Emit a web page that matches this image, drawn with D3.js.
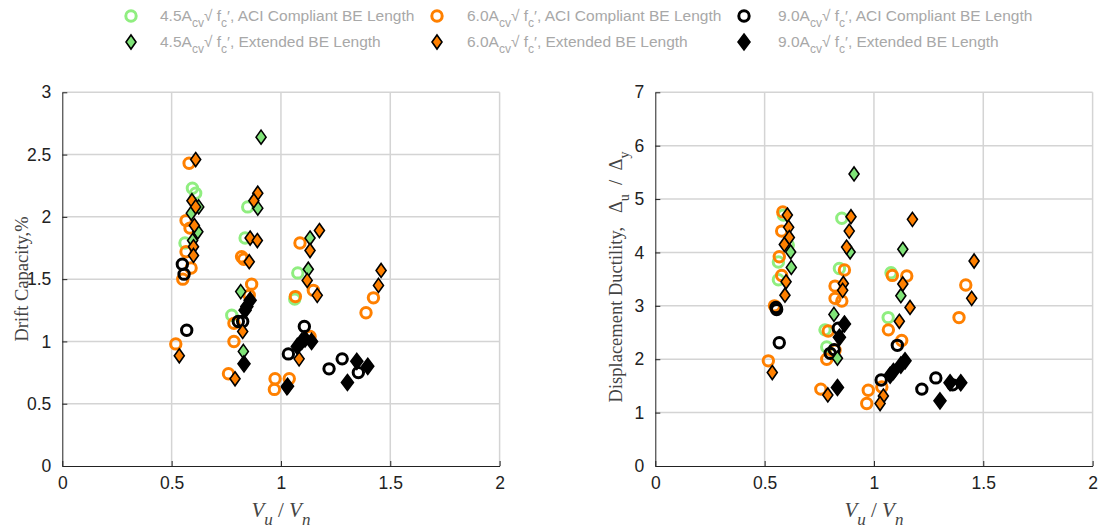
<!DOCTYPE html>
<html lang="en">
<head>
<meta charset="UTF-8">
<title>Drift capacity and ductility vs Vu/Vn</title>
<style>
    body, html { margin: 0; padding: 0; background: #fff; overflow: hidden; }
    svg { display: block; }
    .tick text { font-family: 'Liberation Sans', Arial, sans-serif; font-size: 17.5px; fill: #222; }
    .legend text { font-family: 'Liberation Sans', Arial, sans-serif; font-size: 15.5px; fill: #a8a8a8; }
</style>
</head>
<body>
<div id="chart"></div>
<script src="https://d3js.org/d3.v7.min.js"></script>
<script>
    // series labels
    const groups = ["4.5", "6.0", "9.0"];
    const beTypes = ["ACI Compliant BE Length", "Extended BE Length"];

    // Drift capacity (%) vs Vu/Vn  -- [Vu/Vn, drift]
    const driftGreenCircle = [[0.595,2.23],[0.61,2.19],[0.561,1.79],[0.848,2.08],[0.836,1.83],[0.775,1.21],
        [1.077,1.55],[1.063,1.34]];
    const driftGreenDiamond = [[0.624,2.08],[0.59,2.03],[0.62,1.88],[0.596,1.81],[0.909,2.64],[0.894,2.07],
        [0.816,1.40],[0.828,0.92],[1.133,1.83],[1.125,1.58]];
    const driftOrangeCircle = [[0.58,2.43],[0.566,1.97],[0.584,1.91],[0.566,1.72],[0.589,1.59],[0.551,1.50],
        [0.519,0.98],[0.82,1.68],[0.83,1.66],[0.866,1.46],[0.855,1.37],[0.785,1.145],[0.785,1.0],[0.76,0.74],
        [0.973,0.70],[0.97,0.615],[1.038,0.70],[1.087,1.79],[1.148,1.41],[1.066,1.36],[1.133,1.04],
        [1.389,1.23],[1.423,1.35]];
    const driftOrangeDiamond = [[0.61,2.46],[0.593,2.13],[0.61,2.08],[0.604,1.93],[0.60,1.76],[0.60,1.69],
        [0.535,0.885],[0.894,2.19],[0.876,2.13],[0.859,1.83],[0.892,1.81],[0.855,1.64],[0.825,1.08],[0.79,0.70],
        [1.027,0.63],[1.083,0.86],[1.176,1.89],[1.133,1.73],[1.12,1.49],[1.166,1.37],[1.446,1.45],[1.458,1.57]];
    const driftBlackCircle = [[0.549,1.62],[0.557,1.54],[0.569,1.09],[0.805,1.16],[0.825,1.16],
        [1.034,0.90],[1.107,1.12],[1.22,0.78],[1.28,0.86],[1.354,0.75]];
    const driftBlackDiamond = [[0.859,1.33],[0.844,1.28],[0.836,1.25],[0.831,0.82],[1.03,0.64],
        [1.075,0.96],[1.095,1.0],[1.11,1.02],[1.14,1.0],[1.347,0.84],[1.397,0.80],[1.304,0.67]];

    // Displacement ductility vs Vu/Vn -- [Vu/Vn, ductility]
    const ductGreenCircle = [[0.586,4.70],[0.608,4.14],[0.563,3.82],[0.563,3.49],[0.853,4.64],[0.842,3.70],
        [0.776,2.55],[0.784,2.23],[1.078,3.62],[1.065,2.78]];
    const ductGreenDiamond = [[0.619,4.01],[0.622,3.72],[0.909,5.47],[0.891,4.01],[0.817,2.84],[0.833,2.02],
        [1.132,4.06],[1.123,3.19]];
    const ductOrangeCircle = [[0.583,4.76],[0.578,4.40],[0.567,3.92],[0.578,3.57],[0.545,3.0],[0.517,1.97],
        [0.865,3.67],[0.822,3.37],[0.822,3.14],[0.853,3.09],[0.791,2.53],[0.822,2.17],[0.784,2.0],[0.757,1.44],
        [1.084,3.57],[1.15,3.56],[1.066,2.55],[1.127,2.35],[1.036,1.48],[0.974,1.42],[0.967,1.17],
        [1.42,3.39],[1.389,2.78]];
    const ductOrangeDiamond = [[0.604,4.70],[0.61,4.47],[0.613,4.28],[0.59,4.15],[0.598,3.45],[0.593,3.20],
        [0.535,1.75],[0.895,4.67],[0.887,4.40],[0.875,4.10],[0.86,3.42],[0.857,3.29],[0.789,1.33],
        [1.176,4.62],[1.132,3.41],[1.165,2.97],[1.116,2.71],[1.043,1.31],[1.028,1.17],[1.458,3.84],[1.447,3.14]];
    const ductBlackCircle = [[0.552,2.97],[0.555,2.93],[0.567,2.31],[0.837,2.58],[0.80,2.11],[0.818,2.18],
        [1.107,2.26],[1.033,1.61],[1.219,1.44],[1.283,1.65],[1.36,1.52]];
    const ductBlackDiamond = [[0.865,2.66],[0.842,2.41],[0.833,1.47],[1.142,1.97],[1.123,1.89],[1.089,1.77],
        [1.074,1.70],[1.302,1.22],[1.348,1.56],[1.397,1.56]];

    const xTicks = [0, 0.5, 1, 1.5, 2];
    const driftTicks = [0, 0.5, 1, 1.5, 2, 2.5, 3];
    const ductTicks = [0, 1, 2, 3, 4, 5, 6, 7];

    const W = 1099, H = 529;
    const green = "#90ee80", greenFill = "#80e478", orange = "#ff8000";

    const svg = d3.select("#chart").append("svg").attr("width", W).attr("height", H);

    function drawMarker(g, type, color) {
        if (type === "circle") {
            g.append("circle").attr("r", 5.2).attr("fill", "none")
                .attr("stroke", color).attr("stroke-width", 3);
        } else {
            const big = color === "#000";
            const hw = big ? 6 : 5, hh = big ? 8 : 7;
            g.append("path").attr("d", `M0,${-hh}L${hw},0L0,${hh}L${-hw},0Z`)
                .attr("fill", color).attr("stroke", "#000").attr("stroke-width", 1.6)
                .attr("stroke-linejoin", "miter");
        }
    }

    function panel(left, right, top, bottom, yMax, yTicks, series) {
        const x = d3.scaleLinear().domain([0, 2]).range([left, right]);
        const y = d3.scaleLinear().domain([0, yMax]).range([bottom, top]);
        const g = svg.append("g");

        // grid
        g.append("g").selectAll("line").data(xTicks.slice(1)).join("line")
            .attr("x1", d => x(d)).attr("x2", d => x(d)).attr("y1", top).attr("y2", bottom)
            .attr("stroke", "#d4d4d4").attr("stroke-width", 1.5);
        g.append("g").selectAll("line").data(yTicks.slice(1)).join("line")
            .attr("x1", left).attr("x2", right).attr("y1", d => y(d)).attr("y2", d => y(d))
            .attr("stroke", "#d4d4d4").attr("stroke-width", 1.5);

        g.append("g").attr("transform", `translate(0,${bottom})`)
            .call(d3.axisBottom(x).tickValues(xTicks).tickFormat(d3.format("")).tickSize(5).tickSizeOuter(0).tickPadding(6))
            .call(a => a.select(".domain").attr("stroke", "#222"))
            .call(a => a.selectAll(".tick line").attr("y2", -5).attr("stroke", "#222"));
        g.append("g").attr("transform", `translate(${left},0)`)
            .call(d3.axisLeft(y).tickValues(yTicks).tickFormat(d3.format("")).tickSize(5).tickSizeOuter(0).tickPadding(6))
            .call(a => a.select(".domain").attr("stroke", "#222"))
            .call(a => a.selectAll(".tick line").attr("x2", 5).attr("stroke", "#222"));

        series.forEach(s => {
            g.append("g").selectAll("g").data(s.data).join("g")
                .attr("transform", d => `translate(${x(d[0])},${y(d[1])})`)
                .each(function() { drawMarker(d3.select(this), s.type, s.color); });
        });

        // x label  Vu / Vn
        const xl = g.append("text").attr("x", x(1)).attr("y", 517).attr("text-anchor", "middle")
            .attr("font-family", "'Liberation Serif', 'Times New Roman', serif").attr("font-style", "italic")
            .attr("font-size", 21).attr("fill", "#444").style("white-space", "pre");
        xl.append("tspan").text("V");
        xl.append("tspan").attr("dy", 8).attr("font-size", 17).text("u");
        xl.append("tspan").attr("dy", -8).attr("font-style", "normal").text(" / ");
        xl.append("tspan").text("V");
        xl.append("tspan").attr("dy", 8).attr("font-size", 17).text("n");
        return g;
    }

    const order = (dGc, dGd, dOc, dOd, dBc, dBd) => [
        {type: "circle", color: green, data: dGc},
        {type: "circle", color: orange, data: dOc},
        {type: "circle", color: "#000", data: dBc},
        {type: "diamond", color: greenFill, data: dGd},
        {type: "diamond", color: orange, data: dOd},
        {type: "diamond", color: "#000", data: dBd}
    ];

    panel(62.3, 499.6, 92.3, 466, 3, driftTicks,
        order(driftGreenCircle, driftGreenDiamond, driftOrangeCircle, driftOrangeDiamond, driftBlackCircle, driftBlackDiamond));
    panel(655.3, 1092.6, 92.3, 466, 7, ductTicks,
        order(ductGreenCircle, ductGreenDiamond, ductOrangeCircle, ductOrangeDiamond, ductBlackCircle, ductBlackDiamond));

    // y labels
    const serif = "'Liberation Serif', 'Times New Roman', serif";
    svg.append("text").attr("transform", "translate(28,279) rotate(-90)").attr("text-anchor", "middle")
        .attr("font-family", serif).attr("font-size", 18.5).attr("fill", "#444").text("Drift Capacity,%");
    const yl = svg.append("text").attr("transform", "translate(622,277) rotate(-90)").attr("text-anchor", "middle")
        .attr("font-family", serif).attr("font-size", 18.5).attr("fill", "#444").style("white-space", "pre");
    yl.append("tspan").text("Displacement Ductility,   \u0394");
    yl.append("tspan").attr("dy", 7).attr("font-size", 14).text("u");
    yl.append("tspan").attr("dy", -7).text("  /  \u0394");
    yl.append("tspan").attr("dy", 7).attr("font-size", 14).text("y");

    // legend
    const legendCols = [[131, 160], [437, 467], [744, 778]];
    const legendRows = [16, 42];
    const legColors = [[green, greenFill], [orange, orange], ["#000", "#000"]];
    const lg = svg.append("g").attr("class", "legend");
    groups.forEach((grp, i) => {
        beTypes.forEach((be, j) => {
            const [mx, tx] = legendCols[i];
            const ty = legendRows[j];
            const m = lg.append("g").attr("transform", `translate(${mx},${ty})`);
            drawMarker(m, j === 0 ? "circle" : "diamond", legColors[i][j]);
            const t = lg.append("text").attr("x", tx).attr("y", ty + 5).style("white-space", "pre");
            t.append("tspan").text(grp + "A");
            t.append("tspan").attr("dy", 6).attr("font-size", 12).text("cv");
            t.append("tspan").attr("dy", -6).text("\u221A f");
            t.append("tspan").attr("dy", 6).attr("font-size", 12).text("c");
            t.append("tspan").attr("dy", -6).text("\u2032, " + be);
        });
    });
</script>
</body>
</html>
